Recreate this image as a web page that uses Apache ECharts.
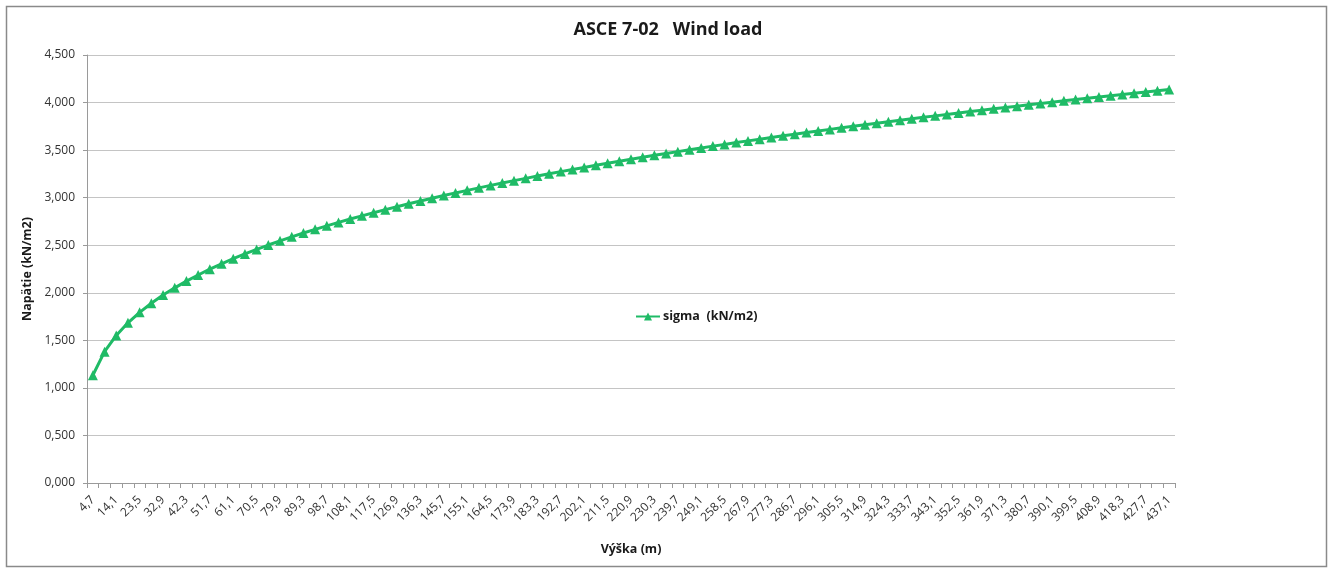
<!DOCTYPE html>
<html>
<head>
<meta charset="utf-8">
<title>ASCE 7-02 Wind load</title>
<script src="https://cdn.jsdelivr.net/npm/echarts@6/dist/echarts.min.js"></script>
<style>
  html, body { margin: 0; padding: 0; background: #ffffff; }
  #chart { width: 1336px; height: 568px; }
</style>
</head>
<body>
<div id="chart"></div>
<script>
// Heights above ground (m), one category per 4,7 m step
const heights = [
  '4,7','9,4','14,1','18,8','23,5','28,2','32,9','37,6','42,3','47',
  '51,7','56,4','61,1','65,8','70,5','75,2','79,9','84,6','89,3','94',
  '98,7','103,4','108,1','112,8','117,5','122,2','126,9','131,6','136,3','141',
  '145,7','150,4','155,1','159,8','164,5','169,2','173,9','178,6','183,3','188',
  '192,7','197,4','202,1','206,8','211,5','216,2','220,9','225,6','230,3','235',
  '239,7','244,4','249,1','253,8','258,5','263,2','267,9','272,6','277,3','282',
  '286,7','291,4','296,1','300,8','305,5','310,2','314,9','319,6','324,3','329',
  '333,7','338,4','343,1','347,8','352,5','357,2','361,9','366,6','371,3','376',
  '380,7','385,4','390,1','394,8','399,5','404,2','408,9','413,6','418,3','423',
  '427,7','432,4','437,1'
];

// Wind pressure sigma (kN/m2) at each height
const sigma = [
  1.133, 1.381, 1.551, 1.684, 1.794, 1.890, 1.976, 2.052, 2.123, 2.187,
  2.248, 2.304, 2.358, 2.408, 2.456, 2.502, 2.546, 2.588, 2.628, 2.667,
  2.704, 2.740, 2.775, 2.809, 2.842, 2.874, 2.905, 2.936, 2.965, 2.994,
  3.022, 3.050, 3.077, 3.103, 3.129, 3.154, 3.179, 3.203, 3.227, 3.251,
  3.274, 3.296, 3.318, 3.340, 3.362, 3.383, 3.404, 3.424, 3.445, 3.465,
  3.484, 3.504, 3.523, 3.542, 3.560, 3.579, 3.597, 3.615, 3.632, 3.650,
  3.667, 3.684, 3.701, 3.718, 3.734, 3.751, 3.767, 3.783, 3.799, 3.814,
  3.830, 3.845, 3.860, 3.875, 3.890, 3.905, 3.919, 3.934, 3.948, 3.962,
  3.976, 3.990, 4.004, 4.018, 4.032, 4.045, 4.059, 4.072, 4.085, 4.098,
  4.111, 4.124, 4.137
];

const chartTitle = 'ASCE 7-02   Wind load';
const seriesName = 'sigma  (kN/m2)';
const xName = 'Výška (m)';
const yName = 'Napätie (kN/m2)';

const FONT = 'Open Sans';
const GREEN = '#1fbb66';
const AXIS_GREY = '#9a9a9a';

const chart = echarts.init(document.getElementById('chart'), null, { renderer: 'canvas' });

chart.setOption({
  backgroundColor: '#ffffff',
  animation: false,
  textStyle: { fontFamily: FONT },
  graphic: [{
    type: 'rect',
    shape: { x: 6.5, y: 6.5, width: 1320, height: 560 },
    style: { fill: 'none', stroke: '#8a8a8a', lineWidth: 1.5 },
    silent: true
  }],
  title: {
    text: chartTitle,
    left: 'center',
    top: 16,
    textStyle: { fontFamily: FONT, fontSize: 18, fontWeight: 'bold', color: '#1a1a1a' }
  },
  legend: {
    data: [seriesName],
    left: 630,
    top: 305,
    itemWidth: 24,
    itemHeight: 10,
    itemGap: 2,
    textStyle: { fontFamily: FONT, fontSize: 12.5, fontWeight: 'bold', color: '#1a1a1a', padding: [0, 0, 0, -2] }
  },
  grid: { left: 87, top: 55, width: 1088, height: 428, containLabel: false },
  xAxis: {
    type: 'category',
    data: heights,
    boundaryGap: true,
    name: xName,
    nameLocation: 'middle',
    nameGap: 60,
    nameTextStyle: { fontFamily: FONT, fontSize: 12.5, fontWeight: 'bold', color: '#1a1a1a' },
    axisLine: { lineStyle: { color: AXIS_GREY, width: 1 } },
    axisTick: { show: true, interval: 0, length: 5, lineStyle: { color: AXIS_GREY } },
    axisLabel: {
      interval: 1,
      rotate: 45,
      margin: 15,
      fontFamily: FONT,
      fontSize: 12,
      color: '#333333'
    },
    splitLine: { show: false }
  },
  yAxis: {
    type: 'value',
    min: 0,
    max: 4.5,
    interval: 0.5,
    name: yName,
    nameLocation: 'middle',
    nameGap: 50,
    nameTextStyle: { fontFamily: FONT, fontSize: 12.5, fontWeight: 'bold', color: '#1a1a1a' },
    axisLine: { show: true, lineStyle: { color: AXIS_GREY, width: 1 } },
    axisTick: { show: true, length: 4, lineStyle: { color: AXIS_GREY } },
    axisLabel: {
      margin: 12,
      fontFamily: FONT,
      fontSize: 12,
      color: '#333333',
      formatter: v => v.toFixed(3).replace('.', ',')
    },
    splitLine: { show: true, lineStyle: { color: '#c4c4c4', width: 1 } }
  },
  series: [{
    name: seriesName,
    type: 'line',
    data: sigma,
    symbol: 'triangle',
    symbolSize: 10,
    showAllSymbol: true,
    lineStyle: { color: GREEN, width: 3 },
    itemStyle: { color: GREEN },
    emphasis: { disabled: true }
  }]
});
</script>
</body>
</html>
